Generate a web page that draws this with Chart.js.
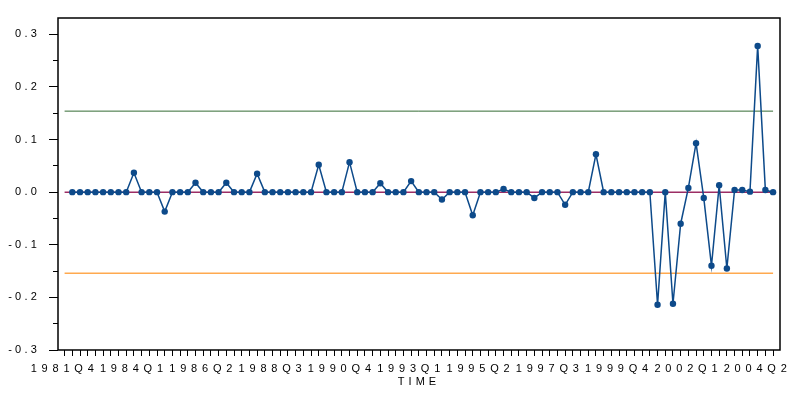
<!DOCTYPE html>
<html>
<head>
<meta charset="utf-8">
<title>TIME</title>
<script src="https://cdn.jsdelivr.net/npm/chart.js@4.4.1/dist/chart.umd.min.js"></script>
<style>
  html, body { margin: 0; padding: 0; background: #fff; }
  #wrap { width: 791px; height: 396px; position: relative; }
</style>
</head>
<body>
<div id="wrap"><canvas id="chart"></canvas></div>
<script>
const QUARTERS = [
  '1981Q4',
  '1982Q1', '1982Q2', '1982Q3', '1982Q4', '1983Q1', '1983Q2', '1983Q3', '1983Q4',
  '1984Q1', '1984Q2', '1984Q3', '1984Q4', '1985Q1', '1985Q2', '1985Q3', '1985Q4',
  '1986Q1', '1986Q2', '1986Q3', '1986Q4', '1987Q1', '1987Q2', '1987Q3', '1987Q4',
  '1988Q1', '1988Q2', '1988Q3', '1988Q4', '1989Q1', '1989Q2', '1989Q3', '1989Q4',
  '1990Q1', '1990Q2', '1990Q3', '1990Q4', '1991Q1', '1991Q2', '1991Q3', '1991Q4',
  '1992Q1', '1992Q2', '1992Q3', '1992Q4', '1993Q1', '1993Q2', '1993Q3', '1993Q4',
  '1994Q1', '1994Q2', '1994Q3', '1994Q4', '1995Q1', '1995Q2', '1995Q3', '1995Q4',
  '1996Q1', '1996Q2', '1996Q3', '1996Q4', '1997Q1', '1997Q2', '1997Q3', '1997Q4',
  '1998Q1', '1998Q2', '1998Q3', '1998Q4', '1999Q1', '1999Q2', '1999Q3', '1999Q4',
  '2000Q1', '2000Q2', '2000Q3', '2000Q4', '2001Q1', '2001Q2', '2001Q3', '2001Q4',
  '2002Q1', '2002Q2', '2002Q3', '2002Q4', '2003Q1', '2003Q2', '2003Q3', '2003Q4',
  '2004Q1', '2004Q2', '2004Q3', '2004Q4'
];

const TICK_LABELS = ['1981Q4', '1984Q1', '1986Q2', '1988Q3', '1990Q4', '1993Q1',
  '1995Q2', '1997Q3', '1999Q4', '2002Q1', '2004Q2'];

// one value per quarter, first quarter has no observation
const VALUES = [
  null,
  0, 0, 0, 0, 0, 0, 0, 0,
  0.037, 0, 0, 0, -0.037, 0, 0, 0,
  0.018, 0, 0, 0, 0.018, 0, 0, 0,
  0.035, 0, 0, 0, 0, 0, 0, 0,
  0.052, 0, 0, 0, 0.057, 0, 0, 0,
  0.017, 0, 0, 0, 0.021, 0, 0, 0,
  -0.014, 0, 0, 0, -0.044, 0, 0, 0,
  0.006, 0, 0, 0, -0.011, 0, 0, 0,
  -0.024, 0, 0, 0, 0.072, 0, 0, 0,
  0, 0, 0, 0, -0.214, 0, -0.212, -0.060,
  0.008, 0.093, -0.011, -0.140, 0.013, -0.145, 0.004, 0.004,
  0.001, 0.278, 0.004, 0
];

const UPPER_LIMIT = 0.154;
const LOWER_LIMIT = -0.154;
const CENTER = 0;

const Y_MIN = -0.3;
const Y_MAX = 0.331;
const Y_TICKS = [-0.3, -0.25, -0.2, -0.15, -0.1, -0.05, 0, 0.05, 0.1, 0.15, 0.2, 0.25, 0.3];
const Y_LABELS = ['-0.3', '', '-0.2', '', '-0.1', '', '0.0', '', '0.1', '', '0.2', '', '0.3'];

function spanLine(value) {
  return [{ x: 0, y: value }, { x: QUARTERS.length - 1, y: value }];
}

function wrapText(scale, method, spacing) {
  const original = scale[method].bind(scale);
  scale[method] = (area) => {
    const ctx = scale.ctx;
    ctx.save();
    ctx.letterSpacing = spacing;
    original(area);
    ctx.restore();
  };
}

const spacingPlugin = {
  id: 'spacing',
  beforeDraw(chart) {
    if (chart._spaced) {
      return;
    }
    wrapText(chart.scales.x, 'drawLabels', '4.8px');
    wrapText(chart.scales.x, 'drawTitle', '4px');
    wrapText(chart.scales.y, 'drawLabels', '3.2px');
    chart._spaced = true;
  }
};

const framePlugin = {
  id: 'frame',
  afterDraw(chart) {
    const { ctx, chartArea } = chart;
    ctx.save();
    ctx.strokeStyle = '#000';
    ctx.lineWidth = 1.5;
    ctx.strokeRect(chartArea.left, chartArea.top, chartArea.right - chartArea.left, chartArea.bottom - chartArea.top);
    ctx.restore();
  }
};

const font = { family: '"Liberation Sans", Arial, sans-serif', size: 11 };

new Chart(document.getElementById('chart'), {
  type: 'line',
  data: {
    datasets: [
      {
        data: VALUES.map((v, i) => ({ x: i, y: v })),
        borderColor: '#0d4a8a',
        backgroundColor: '#0d4a8a',
        borderWidth: 1.5,
        pointRadius: 3.2,
        pointBorderWidth: 0,
        tension: 0
      },
      {
        data: spanLine(CENTER),
        borderColor: '#9c2d64',
        borderWidth: 1.5,
        pointRadius: 0
      },
      {
        data: spanLine(UPPER_LIMIT),
        borderColor: '#336b33',
        borderWidth: 1,
        pointRadius: 0
      },
      {
        data: spanLine(LOWER_LIMIT),
        borderColor: '#ffa94f',
        borderWidth: 1.5,
        pointRadius: 0
      }
    ]
  },
  options: {
    responsive: true,
    maintainAspectRatio: false,
    animation: false,
    layout: { padding: { top: 18, right: 11, left: 0, bottom: 0 } },
    plugins: {
      legend: { display: false },
      tooltip: { enabled: false }
    },
    scales: {
      x: {
        type: 'linear',
        min: -0.857,
        max: 92.9,
        border: { display: false },
        grid: {
          drawOnChartArea: false,
          tickLength: 6,
          tickColor: '#000',
          tickWidth: 1
        },
        afterBuildTicks: (scale) => {
          scale.ticks = QUARTERS.map((q, i) => ({ value: i }));
        },
        afterFit: (scale) => {
          scale.height = 46;
        },
        ticks: {
          autoSkip: false,
          maxRotation: 0,
          padding: 6,
          color: '#000',
          font,
          callback: (value) => (TICK_LABELS.includes(QUARTERS[value]) ? QUARTERS[value] : '')
        },
        title: {
          display: true,
          text: 'TIME',
          color: '#000',
          font,
          padding: { top: 0, bottom: 7 }
        }
      },
      y: {
        min: Y_MIN,
        max: Y_MAX,
        border: { display: false },
        grid: {
          drawOnChartArea: false,
          tickLength: 9,
          tickColor: '#000',
          tickWidth: 1,
          tickBorderDash: (ctx) => (Y_LABELS[ctx.index] ? [] : [0, 4, 5, 100])
        },
        afterBuildTicks: (scale) => {
          scale.ticks = Y_TICKS.map((v) => ({ value: v }));
        },
        afterFit: (scale) => {
          scale.width = 58;
        },
        ticks: {
          padding: 9,
          color: '#000',
          font,
          callback: (value, index) => Y_LABELS[index]
        }
      }
    }
  },
  plugins: [spacingPlugin, framePlugin]
});
</script>
</body>
</html>
